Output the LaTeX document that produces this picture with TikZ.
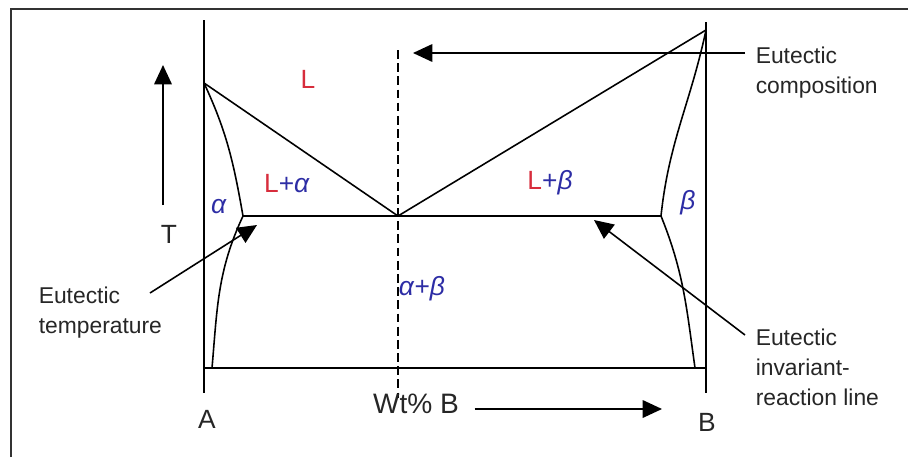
\documentclass[tikz,border=0pt]{standalone}
\usepackage{fontspec}
\setmainfont{Liberation Sans}
\usetikzlibrary{arrows.meta, positioning}
\definecolor{phasered}{RGB}{215,45,60}
\definecolor{phaseblue}{RGB}{45,45,165}

\begin{document}
\begin{tikzpicture}[x=0.02cm, y=-0.02cm, line width=0.9pt, >={Triangle[length=11pt,width=10pt]},
    every node/.style={inner sep=0pt, text=black!85},
    note/.style={align=left, anchor=north west, font=\fontsize{13}{17}\selectfont},
    axislbl/.style={font=\fontsize{15}{18}\selectfont},
    phase/.style={font=\fontsize{15}{18}\selectfont}]
    \useasboundingbox (0,0) rectangle (908,457);
    \draw[line width=1.3pt, black!80] (11,457) -- (11,9) -- (908,9);

    % corner points of the phase diagram
    \coordinate (topA) at (204,20);
    \coordinate (endA) at (204,393);
    \coordinate (topB) at (706,22);
    \coordinate (endB) at (706,393);
    \coordinate (meltA) at (204,83);
    \coordinate (meltB) at (706,30);
    \coordinate (eut) at (398,216);
    \coordinate (solA) at (243,216);
    \coordinate (solB) at (661,216);
    \coordinate (baseA) at (212,368);
    \coordinate (baseB) at (695,368);
    \coordinate (dashTop) at (398,50);
    \coordinate (dashBot) at (398,398);

    \draw (topA) -- (endA);
    \draw (topB) -- (endB);
    \draw (topA |- baseA) -- (topB |- baseB);
    \draw (meltA) -- (eut) -- (meltB);
    \draw (solA) -- (solB);
    \draw (meltA) to[out=-65,in=100] (solA) to[out=-115,in=85] (baseA);
    \draw (meltB) to[out=-102,in=84] (solB) to[out=-68,in=98] (baseB);
    \draw[line width=0.8pt, dash pattern=on 5pt off 2.5pt] (dashTop) -- (dashBot);

    % phase labels
    \node[phase, text=phasered] (liq) at (308,79) {L};
    \node[phase] (liqA) at (287,184) {\textcolor{phasered}{L}\textcolor{phaseblue}{+\textit{α}}};
    \node[phase] (liqB) at (550,183) {\textcolor{phasered}{L}\textcolor{phaseblue}{+\textit{β}}};
    \node[phase, text=phaseblue] (alpha) at (219,207) {\textit{α}};
    \node[phase, text=phaseblue] (beta) at (688,203) {\textit{β}};
    \node[phase, text=phaseblue] (mix) at (422,289) {\textit{α}+\textit{β}};

    % axes
    \node[axislbl] (tlbl) at (169,234) {T};
    \node[axislbl] (albl) at (207,419) {A};
    \node[axislbl] (blbl) at (707,422) {B};
    \node[font=\fontsize{16}{19}\selectfont] (wt) at (416,404) {Wt\% B};
    \coordinate (tBot) at (163,205);
    \coordinate (tTop) at (163,65);
    \draw[->] (tBot) -- (tTop);
    \coordinate (wtStart) at ([shift={(15,5)}]wt.east);
    \coordinate (wtTip) at (662,0);
    \draw[->] (wtStart) -- (wtStart -| wtTip);

    % notes
    \node[note] (comp) at (755,46) {Eutectic\\composition};
    \node[note] (temp) at (38,286) {Eutectic\\temperature};
    \node[note] (inv) at (755,328) {Eutectic\\invariant-\\reaction line};
    \coordinate (compFrom) at (745,53);
    \coordinate (compTip) at (413,53);
    \coordinate (tempFrom) at (150,293);
    \coordinate (tempTip) at (257,225);
    \coordinate (invFrom) at (745,335);
    \coordinate (invTip) at (594,220);
    \draw[->] (compFrom) -- (compTip);
    \draw[->] (tempFrom) -- (tempTip);
    \draw[->] (invFrom) -- (invTip);
\end{tikzpicture}
\end{document}
